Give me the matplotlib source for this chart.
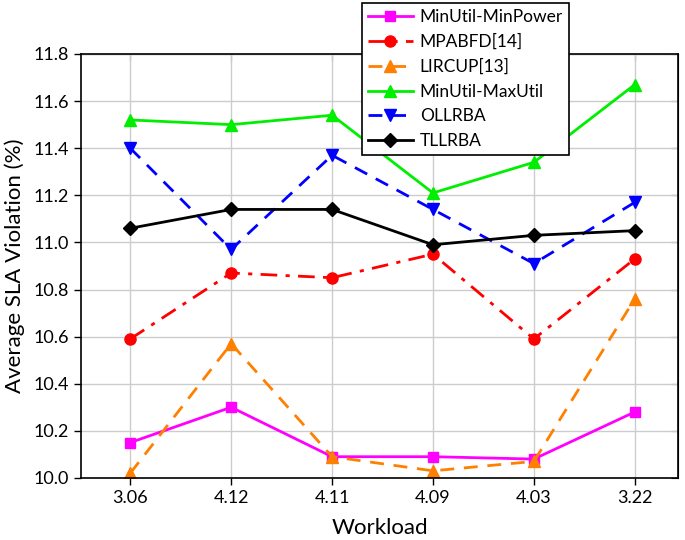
import matplotlib.pyplot as plt

plt.rcParams['font.family'] = ['Lato', 'DejaVu Sans']

workload = ['3.06', '4.12', '4.11', '4.09', '4.03', '3.22']

minutil_minpower = [10.15, 10.30, 10.09, 10.09, 10.08, 10.28]
mpabfd = [10.59, 10.87, 10.85, 10.95, 10.59, 10.93]
lircup = [10.02, 10.57, 10.09, 10.03, 10.07, 10.76]
minutil_maxutil = [11.52, 11.50, 11.54, 11.21, 11.34, 11.67]
ollrba = [11.40, 10.97, 11.37, 11.14, 10.91, 11.17]
tllrba = [11.06, 11.14, 11.14, 10.99, 11.03, 11.05]

x = range(len(workload))
yticks = [10.0 + 0.2 * i for i in range(10)]

fig = plt.figure(figsize=(6.85, 5.4), dpi=100)
ax = fig.add_axes([0.118, 0.115, 0.872, 0.785])

ax.plot(x, minutil_minpower, color='#FF00FF', ls='-', lw=2, marker='s', ms=7,
        label='MinUtil-MinPower')
ax.plot(x, mpabfd, color='#FF0000', ls=(0, (6, 3, 1.5, 3)), lw=2, marker='o', ms=8,
        label='MPABFD[14]')
ax.plot(x, lircup, color='#FF8000', ls=(0, (5, 3.5)), lw=2, marker='^', ms=9,
        label='LIRCUP[13]')
ax.plot(x, minutil_maxutil, color='#00EE00', ls='-', lw=2, marker='^', ms=9,
        label='MinUtil-MaxUtil')
ax.plot(x, ollrba, color='#0000FF', ls=(0, (5, 3.5)), lw=2, marker='v', ms=9,
        label='OLLRBA')
ax.plot(x, tllrba, color='black', ls='-', lw=2, marker='D', ms=7,
        label='TLLRBA')

ax.set_xlim(-0.49, 5.43)
ax.set_ylim(10.0, 11.8)
ax.set_xticks(list(x))
ax.set_xticklabels(workload)
ax.set_yticks(yticks)
ax.yaxis.set_major_formatter(plt.FormatStrFormatter('%.1f'))
ax.grid(color='#cccccc', lw=1)
ax.set_axisbelow(True)
ax.tick_params(labelsize=13, direction='out', length=5, width=1)
for s in ax.spines.values():
    s.set_linewidth(1.2)

top = ax.secondary_xaxis('top')
top.set_xticks(list(x))
top.tick_params(direction='in', labeltop=False, length=5)
right = ax.secondary_yaxis('right')
right.set_yticks(yticks)
right.tick_params(direction='in', labelright=False, length=5)

ax.set_xlabel('Workload', fontsize=16, labelpad=9)
ax.set_ylabel('Average SLA Violation (%)', fontsize=16, labelpad=6)

leg = fig.legend(loc='upper left', bbox_to_anchor=(0.528, 0.994), borderaxespad=0,
                 fontsize=12.5, frameon=True, fancybox=False, framealpha=1,
                 edgecolor='black', handlelength=2.6, labelspacing=0.5,
                 borderpad=0.35, handletextpad=0.4)
leg.get_frame().set_linewidth(1.2)

fig.savefig('out.png', dpi=100)
